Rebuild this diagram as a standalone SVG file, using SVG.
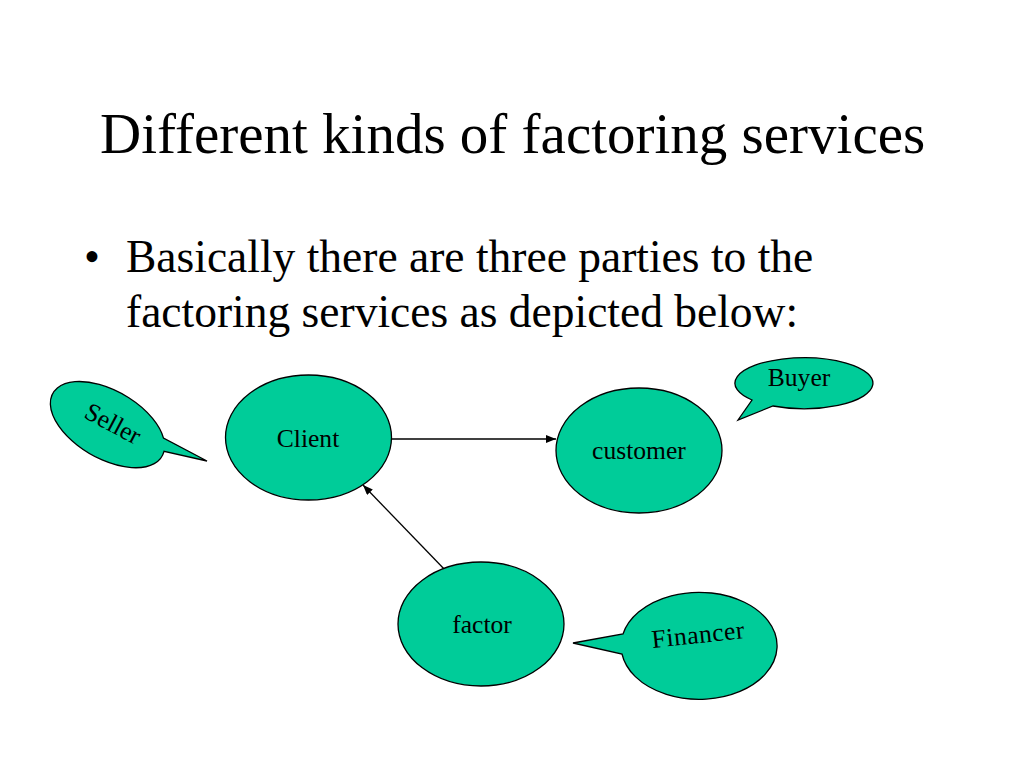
<svg xmlns="http://www.w3.org/2000/svg" width="1024" height="768" viewBox="0 0 1024 768">
<style>
text{font-family:"Liberation Serif","Times New Roman",serif;fill:#000}
.node{fill:#00CC99;stroke:#000;stroke-width:1.3}
.lbl{font-size:25.6px;text-anchor:middle}
.conn{stroke:#000;stroke-width:1.3;fill:none}
</style>
<defs>
<marker id="arr" markerWidth="10" markerHeight="8" refX="10" refY="4" orient="auto" markerUnits="userSpaceOnUse">
<path d="M0,0 L10,4 L0,8 Z" fill="#000"/>
</marker>
</defs>
<rect width="1024" height="768" fill="#fff"/>
<text x="100" y="153" font-size="57">Different kinds of factoring services</text>
<text x="84" y="272" font-size="45.5">•</text>
<text x="126" y="272" font-size="45.5">Basically there are three parties to the</text>
<text x="126" y="327" font-size="45.5">factoring services as depicted below:</text>

<g id="connectors">
<line class="conn" x1="392" y1="439" x2="556" y2="439" marker-end="url(#arr)"/>
<line class="conn" x1="447" y1="572" x2="363" y2="485" marker-end="url(#arr)"/>
</g>

<g id="client">
<ellipse class="node" cx="308.5" cy="437.5" rx="83" ry="62.5"/>
<text class="lbl" x="308" y="447">Client</text>
</g>
<g id="customer">
<ellipse class="node" cx="639" cy="450.5" rx="83" ry="62.5"/>
<text class="lbl" x="639" y="459">customer</text>
</g>
<g id="factor">
<ellipse class="node" cx="481" cy="624" rx="83" ry="62"/>
<text class="lbl" x="482" y="633">factor</text>
</g>
<g id="seller">
<path class="node" d="M163.5 438.1 A63 34 30 1 0 164 451.3 L207 461 Z"/>
<text class="lbl" x="0" y="0" transform="translate(109 431) rotate(28)">Seller</text>
</g>
<g id="buyer">
<path class="node" d="M752 400 A69 25.5 0 1 1 773 406 L738 420 Z"/>
<text class="lbl" x="799" y="386">Buyer</text>
</g>
<g id="financer">
<path class="node" d="M623 634 A78 53.5 0 1 1 622 654 L573 643 Z"/>
<text class="lbl" x="0" y="0" transform="translate(699 643) rotate(-6)" letter-spacing="0.5">Financer</text>
</g>
</svg>
